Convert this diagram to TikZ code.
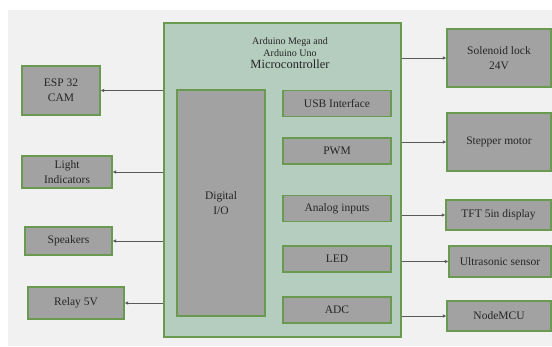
\documentclass[tikz,border=0pt]{standalone}
\usepackage{fontspec}
\setmainfont{Liberation Serif}
\usetikzlibrary{arrows.meta}

\definecolor{pagegray}{HTML}{F1F1F1}
\definecolor{boardgreen}{HTML}{B5CDBF}
\definecolor{edgegreen}{HTML}{6A9A50}
\definecolor{partgray}{HTML}{A2A2A2}

\tikzset{
    part/.style={draw=edgegreen,fill=partgray,line width=1.3pt,
        inner sep=0pt,align=center,text=black!85,
        font=\fontsize{11.5}{15}\selectfont},
    board/.style={draw=edgegreen,fill=boardgreen,line width=1.3pt},
    link/.style={draw=black!65,line width=.7pt,
        -{Latex[length=3.5pt,width=3.5pt]}}
}

\begin{document}
\begin{tikzpicture}[x=1pt,y=-1pt]
    \useasboundingbox (0,0) rectangle (552,346);
    \fill[pagegray] (8,10) rectangle (552,346);

    % microcontroller board
    \node[board,minimum width=237pt,minimum height=314pt] (mcu) at (282.5,180) {};
    \node[align=center,text=black!85] (title) at (290,53)
        {{\fontsize{10}{14}\selectfont Arduino Mega and}\\
         {\fontsize{10}{14}\selectfont Arduino Uno}\\
         {\fontsize{12.5}{15}\selectfont Microcontroller}};
    \node[part,minimum width=88pt,minimum height=226pt] (dio) at (221,203) {Digital\\I/O};
    \node[part,minimum width=108pt,minimum height=26pt] (usb) at (337,103.5) {USB Interface};
    \node[part,minimum width=108pt,minimum height=26pt] (pwm) at (337,151) {PWM};
    \node[part,minimum width=108pt,minimum height=26pt] (ain) at (337,208.5) {Analog inputs};
    \node[part,minimum width=108pt,minimum height=26pt] (led) at (337,259) {LED};
    \node[part,minimum width=108pt,minimum height=26pt] (adc) at (337,310) {ADC};

    % outputs on the left
    \node[part,minimum width=78pt,minimum height=49pt] (esp) at (61,90.5) {ESP 32\\CAM};
    \node[part,minimum width=90pt,minimum height=32pt] (light) at (67,172) {Light\\Indicators};
    \node[part,minimum width=87pt,minimum height=28pt] (spk) at (68.5,241) {Speakers};
    \node[part,minimum width=96pt,minimum height=32pt] (relay) at (76,303) {Relay 5V};

    % peripherals on the right
    \node[part,minimum width=104pt,minimum height=58pt] (sol) at (499,58) {Solenoid lock\\24V};
    \node[part,minimum width=104pt,minimum height=58pt] (stepper) at (499,142) {Stepper motor};
    \node[part,minimum width=105pt,minimum height=30pt] (tft) at (498.5,215) {TFT 5in display};
    \node[part,minimum width=102pt,minimum height=31pt] (ultra) at (500,261.5) {Ultrasonic sensor};
    \node[part,minimum width=104pt,minimum height=30pt] (nmcu) at (499,316) {NodeMCU};

    \foreach \dev in {esp,light,spk,relay}
        \draw[link] (\dev.east -| mcu.west) -- (\dev.east);
    \foreach \dev in {sol,stepper,tft,ultra,nmcu}
        \draw[link] (\dev.west -| mcu.east) -- (\dev.west);
\end{tikzpicture}
\end{document}
